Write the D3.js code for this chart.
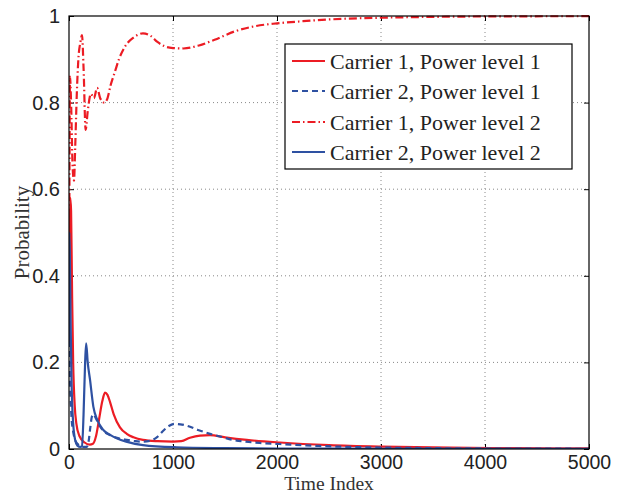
<!DOCTYPE html>
<html><head><meta charset="utf-8">
<script src="https://cdn.jsdelivr.net/npm/d3@7"></script>
<style>body{margin:0;background:#fff}svg{display:block}</style>
</head><body>
<svg id="c" width="622" height="493"></svg>
<script>
const xTicks = [0, 1000, 2000, 3000, 4000, 5000];
const yTicks = [0, 0.2, 0.4, 0.6, 0.8, 1];
const yTickLabels = ["0", "0.2", "0.4", "0.6", "0.8", "1"];
const seriesNames = ["Carrier 1, Power level 1", "Carrier 2, Power level 1", "Carrier 1, Power level 2", "Carrier 2, Power level 2"];

// Carrier 1, Power level 1 (red solid)
const c1p1T = [0,5,12,20,30,40,55,70,100,150,200,230,260,290,320,346,370,394,430,490,555,620,711,850,1000,1080,1163,1260,1356,1500,1709,2029,2500,3000,3660,4300,5000];
const c1p1V = [0.25,0.45,0.58,0.55,0.35,0.2,0.1,0.06,0.03,0.015,0.01,0.012,0.03,0.07,0.11,0.13,0.125,0.109,0.08,0.05,0.035,0.027,0.021,0.018,0.017,0.018,0.026,0.031,0.032,0.027,0.021,0.015,0.009,0.0055,0.003,0.002,0.0015];
// Carrier 2, Power level 1 (blue dashed)
const c2p1T = [0,5,15,25,40,60,90,130,170,190,205,220,234,260,298,340,394,470,555,640,711,780,850,906,960,1019,1070,1131,1240,1356,1480,1577,1700,1833,2029,2400,2862,3500,4200,5000];
const c2p1V = [0.25,0.2,0.12,0.07,0.04,0.02,0.01,0.005,0.005,0.02,0.05,0.075,0.08,0.07,0.052,0.04,0.032,0.025,0.021,0.018,0.017,0.019,0.028,0.042,0.053,0.058,0.057,0.054,0.044,0.035,0.027,0.021,0.017,0.014,0.0115,0.007,0.004,0.002,0.001,0.0006];
// Carrier 1, Power level 2 (red dash-dot)
const c1p2T = [0,4,10,20,35,48,60,75,90,110,125,140,160,180,210,240,270,300,340,370,400,440,480,540,620,711,780,850,920,1000,1100,1250,1400,1600,1800,2000,2250,2500,3000,3500,4000,5000];
const c1p2V = [0.25,0.6,0.86,0.8,0.65,0.62,0.7,0.82,0.9,0.94,0.956,0.88,0.737,0.78,0.82,0.81,0.834,0.81,0.8,0.81,0.84,0.87,0.9,0.93,0.95,0.96,0.955,0.94,0.93,0.926,0.925,0.932,0.945,0.965,0.977,0.983,0.988,0.992,0.996,0.998,0.999,0.9995];
// Carrier 2, Power level 2 (blue solid)
const c2p2T = [0,3,8,15,25,40,60,80,110,125,140,155,165,180,202,234,272,330,400,458,550,711,1035,1500,2000,3000,5000];
const c2p2V = [0.25,0.5,0.45,0.3,0.15,0.06,0.02,0.008,0.005,0.006,0.08,0.2,0.244,0.2,0.16,0.098,0.067,0.044,0.032,0.025,0.017,0.009,0.004,0.002,0.001,0.0005,0.0002];

const RED = "#ec1c24", BLUE = "#2e51a2";
const series = [
  {name: seriesNames[0], t: c1p1T, v: c1p1V, color: RED, dash: null},
  {name: seriesNames[1], t: c2p1T, v: c2p1V, color: BLUE, dash: "6,4"},
  {name: seriesNames[2], t: c1p2T, v: c1p2V, color: RED, dash: "8,3,1.5,3"},
  {name: seriesNames[3], t: c2p2T, v: c2p2V, color: BLUE, dash: null}
];

const L = 69, R = 589, T = 16, B = 449;
const svg = d3.select("#c");
const x = d3.scaleLinear().domain([0, 5000]).range([L, R]);
const y = d3.scaleLinear().domain([0, 1]).range([B, T]);

// grid
const g = svg.append("g");
g.selectAll(".gx").data(xTicks.slice(1, -1)).enter().append("line")
  .attr("x1", d => x(d)).attr("x2", d => x(d)).attr("y1", T).attr("y2", B)
  .attr("stroke", "#888").attr("stroke-width", 1).attr("stroke-dasharray", "1,3");
g.selectAll(".gy").data(yTicks.slice(1, -1)).enter().append("line")
  .attr("y1", d => y(d)).attr("y2", d => y(d)).attr("x1", L).attr("x2", R)
  .attr("stroke", "#888").attr("stroke-width", 1).attr("stroke-dasharray", "1,3");

// axes (ticks inward)
const sans = "'Liberation Sans', Arial, sans-serif";
const serif = "'Liberation Serif', 'Times New Roman', serif";
const xAxis = svg.append("g").attr("transform", `translate(0,${B})`)
  .call(d3.axisBottom(x).tickValues(xTicks).tickFormat(d3.format("d")).tickSizeInner(-5).tickSizeOuter(0).tickPadding(6));
const yAxis = svg.append("g").attr("transform", `translate(${L},0)`)
  .call(d3.axisLeft(y).tickValues(yTicks).tickFormat((d, i) => yTickLabels[i]).tickSizeInner(-5).tickSizeOuter(0).tickPadding(9));
const xTop = svg.append("g").attr("transform", `translate(0,${T})`)
  .call(d3.axisTop(x).tickValues(xTicks).tickFormat("").tickSizeInner(-5).tickSizeOuter(0));
const yRight = svg.append("g").attr("transform", `translate(${R},0)`)
  .call(d3.axisRight(y).tickValues(yTicks).tickFormat("").tickSizeInner(-5).tickSizeOuter(0));
[xAxis, yAxis, xTop, yRight].forEach(a => {
  a.select(".domain").remove();
  a.selectAll("line").attr("stroke", "#000");
  a.selectAll("text").attr("font-family", sans).attr("font-size", 20).attr("fill", "#222");
});
xAxis.selectAll("text").attr("font-size", 19.5);

// lines
const clip = svg.append("clipPath").attr("id", "pc").append("rect")
  .attr("x", L).attr("y", T - 2).attr("width", R - L).attr("height", B - T + 2);
const lineGen = d3.line().x(d => x(d[0])).y(d => y(d[1])).curve(d3.curveMonotoneX);
const lg = svg.append("g").attr("clip-path", "url(#pc)");
series.forEach(s => {
  const pts = s.t.map((t, i) => [t, s.v[i]]);
  lg.append("path").attr("d", lineGen(pts)).attr("fill", "none")
    .attr("stroke", s.color).attr("stroke-width", 2.2)
    .attr("stroke-dasharray", s.dash)
    .attr("stroke-linejoin", "round");
});

// frame
svg.append("rect").attr("x", L).attr("y", T).attr("width", R - L).attr("height", B - T)
  .attr("fill", "none").attr("stroke", "#000").attr("stroke-width", 1.2);

// axis titles
svg.append("text").attr("x", (L + R) / 2).attr("y", 490).attr("text-anchor", "middle")
  .attr("font-family", serif).attr("font-size", 19.5).attr("fill", "#333").text("Time Index");
svg.append("text").attr("transform", `translate(29,${(T + B) / 2}) rotate(-90)`).attr("text-anchor", "middle")
  .attr("font-family", serif).attr("font-size", 21).attr("fill", "#333").text("Probability");

// legend
const leg = svg.append("g");
leg.append("rect").attr("x", 285).attr("y", 44).attr("width", 287).attr("height", 125)
  .attr("fill", "#fff").attr("stroke", "#000").attr("stroke-width", 1.2);
const rowY = [61, 91, 122, 152];
series.forEach((s, i) => {
  leg.append("line").attr("x1", 292).attr("x2", 325).attr("y1", rowY[i]).attr("y2", rowY[i])
    .attr("stroke", s.color).attr("stroke-width", 2.2).attr("stroke-dasharray", s.dash);
  leg.append("text").attr("x", 330).attr("y", rowY[i]).attr("dy", "0.35em")
    .attr("font-family", serif).attr("font-size", 22).attr("fill", "#222").text(s.name);
});
</script>
</body></html>
